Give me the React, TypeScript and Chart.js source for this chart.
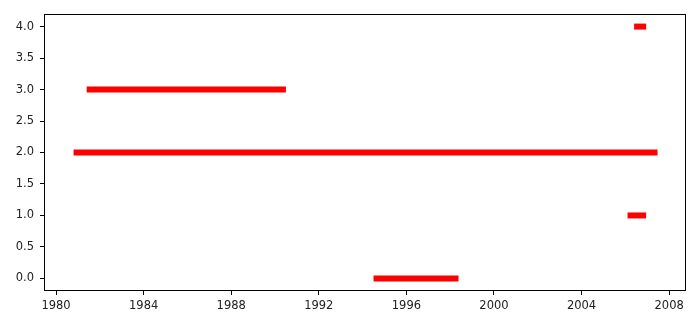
import React, { useEffect, useRef } from 'react';
import { Chart, registerables } from 'chart.js';

Chart.register(...registerables);

// Horizontal segments: level (y), start year, end year
const levels = [2, 3, 0, 1, 4];
const starts = [1980.8, 1981.4, 1994.5, 2006.1, 2006.4];
const ends = [2007.47, 1990.5, 1998.38, 2006.95, 2006.95];

const xTicks = [1980, 1984, 1988, 1992, 1996, 2000, 2004, 2008];
const yTicks = [0, 0.5, 1, 1.5, 2, 2.5, 3, 3.5, 4];

const X_MIN = 1979.45;
const X_MAX = 2008.77;
const Y_MIN = -0.2;
const Y_MAX = 4.2;

const framePlugin = {
  id: 'frame',
  afterDraw(chart: any) {
    const { ctx, chartArea } = chart;
    ctx.save();
    ctx.strokeStyle = '#000';
    ctx.lineWidth = 1;
    ctx.strokeRect(
      Math.round(chartArea.left) + 0.5,
      Math.round(chartArea.top) + 0.5,
      Math.round(chartArea.right - chartArea.left) - 1,
      Math.round(chartArea.bottom - chartArea.top) - 1
    );
    ctx.restore();
  },
};

export default function App() {
  const ref = useRef<HTMLCanvasElement>(null);

  useEffect(() => {
    if (!ref.current) return;
    const datasets = levels.map((lv, i) => ({
      data: [
        { x: starts[i], y: lv },
        { x: ends[i], y: lv },
      ],
      borderColor: '#ff0000',
      backgroundColor: '#ff0000',
      borderWidth: 6,
      borderCapStyle: 'butt' as const,
      pointRadius: 0,
      showLine: true,
      fill: false,
    }));

    const font = { family: '"DejaVu Sans", sans-serif', size: 11.5 };

    const chart = new Chart(ref.current, {
      type: 'scatter',
      data: { datasets },
      plugins: [framePlugin],
      options: {
        animation: false,
        responsive: false,
        devicePixelRatio: 1,
        layout: { padding: { top: 14, right: 14, left: 0, bottom: 0 } },
        plugins: { legend: { display: false }, tooltip: { enabled: false } },
        scales: {
          x: {
            type: 'linear',
            min: X_MIN,
            max: X_MAX,
            afterBuildTicks: (s: any) => {
              s.ticks = xTicks.map((v) => ({ value: v }));
            },
            afterFit: (s: any) => {
              s.height = 36;
            },
            ticks: {
              autoSkip: false,
              maxRotation: 0,
              padding: 4,
              color: '#222',
              font,
              callback: (v: any) => String(v),
            },
            grid: {
              drawOnChartArea: false,
              drawTicks: true,
              tickLength: 4,
              tickColor: '#000',
            },
            border: { display: false },
          },
          y: {
            type: 'linear',
            min: Y_MIN,
            max: Y_MAX,
            afterBuildTicks: (s: any) => {
              s.ticks = yTicks.map((v) => ({ value: v }));
            },
            afterFit: (s: any) => {
              s.width = 44;
            },
            ticks: {
              autoSkip: false,
              padding: 6,
              color: '#222',
              font,
              callback: (v: any) => Number(v).toFixed(1),
            },
            grid: {
              drawOnChartArea: false,
              drawTicks: true,
              tickLength: 4,
              tickColor: '#000',
            },
            border: { display: false },
          },
        },
      },
    });
    return () => chart.destroy();
  }, []);

  return (
    <div style={{ position: 'fixed', left: 0, top: 0, width: 700, height: 327, background: '#fff' }}>
      <canvas ref={ref} width={700} height={327} style={{ width: 700, height: 327 }} />
    </div>
  );
}
